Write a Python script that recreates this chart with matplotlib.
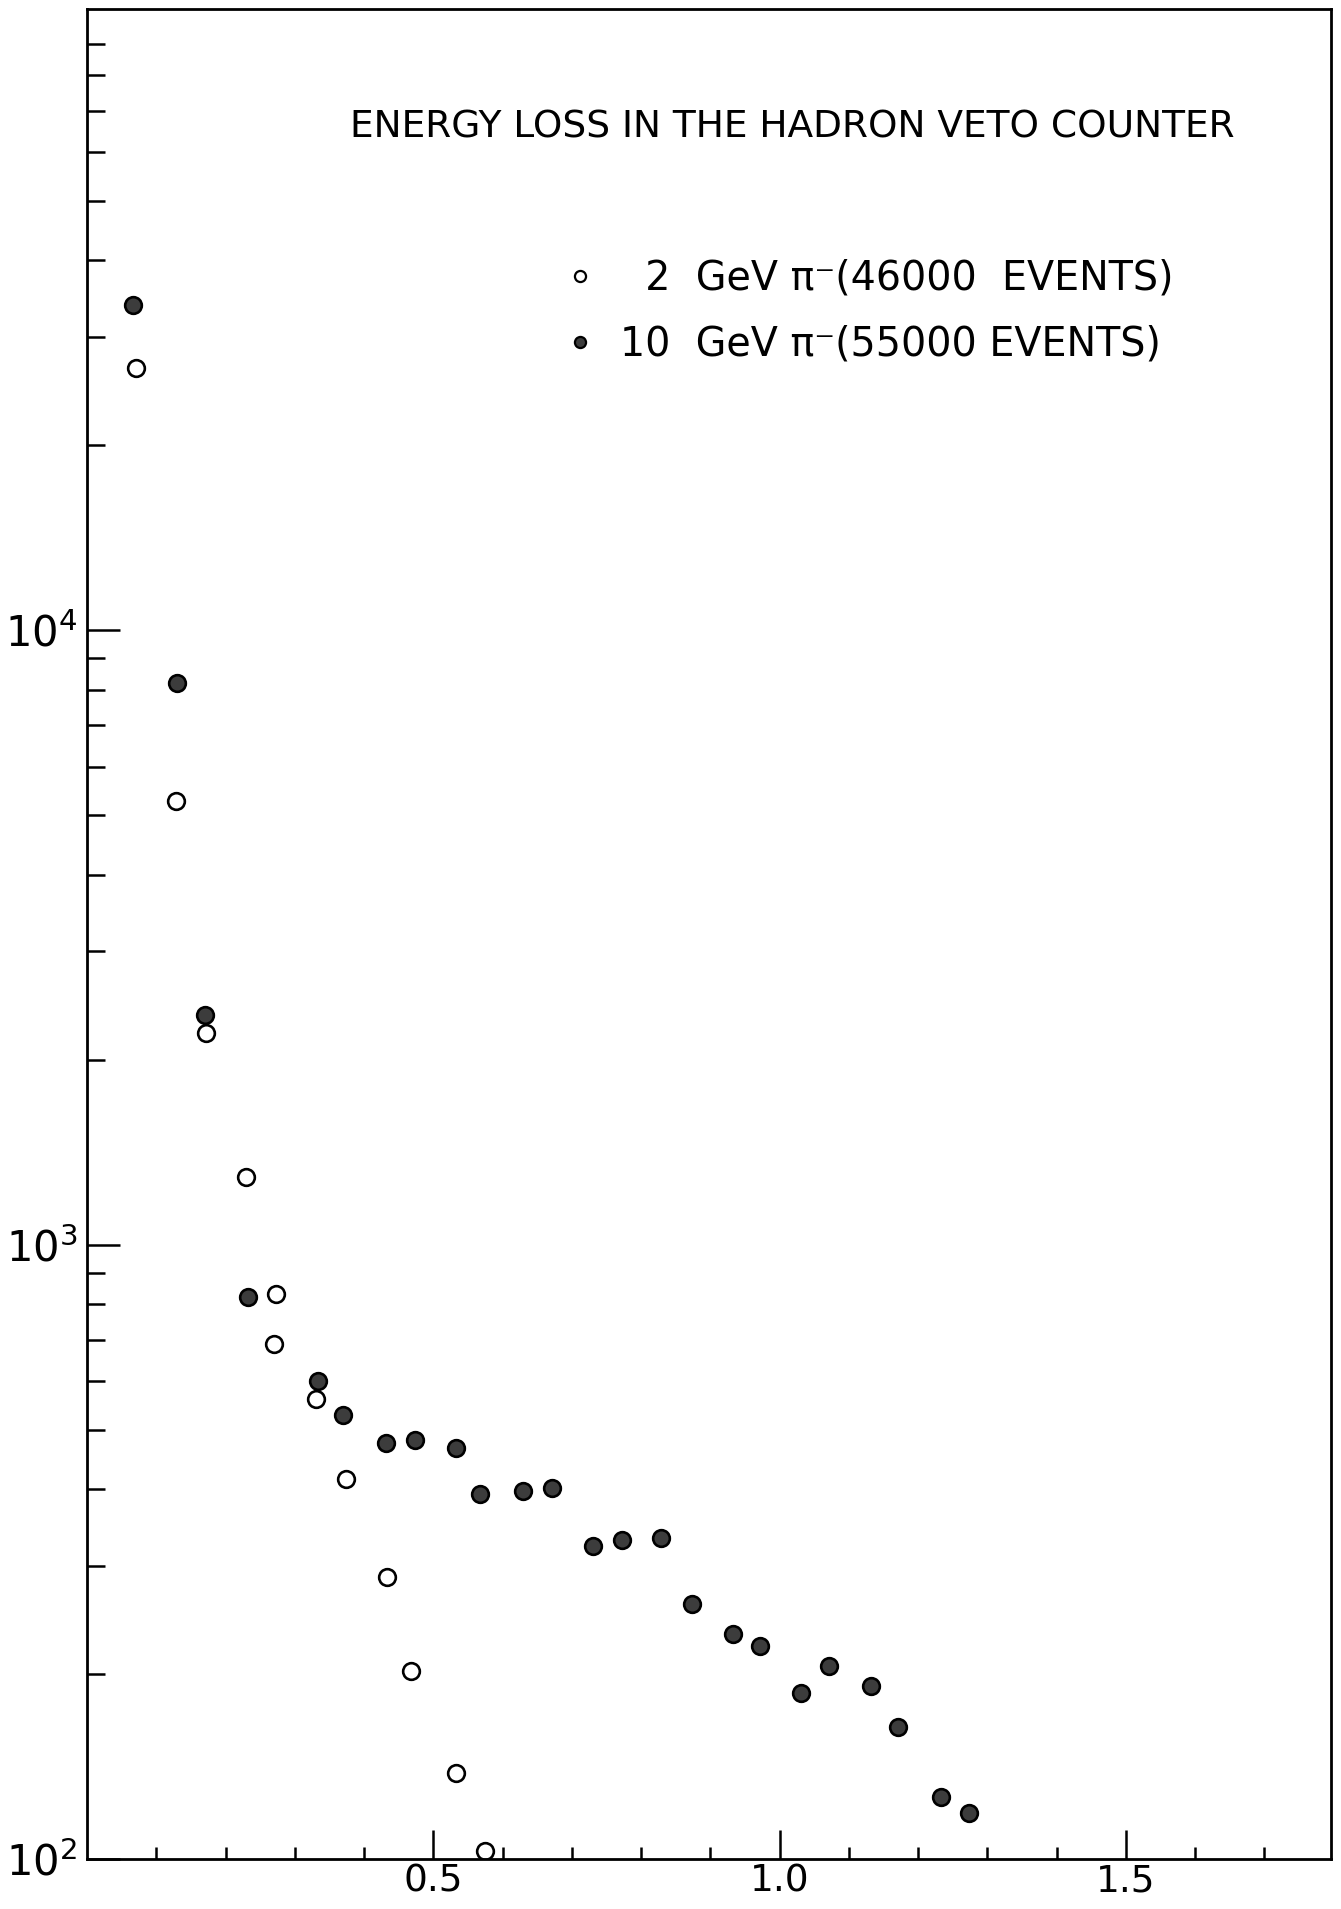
import numpy as np
import matplotlib.pyplot as plt
from matplotlib.lines import Line2D
from matplotlib.ticker import FixedLocator, NullFormatter, FixedFormatter

plt.rcParams['font.family'] = ['DejaVu Sans']

# energy loss (x) and counts
x_2gev = [0.070, 0.129, 0.172, 0.229, 0.273, 0.270, 0.330, 0.374, 0.433, 0.468, 0.533, 0.575]
n_2gev = [26700, 5270, 2210, 1290, 830, 690, 560, 416, 288, 202, 138, 103]

x_10gev = [0.066, 0.130, 0.171, 0.233, 0.334, 0.370, 0.432, 0.473, 0.533, 0.568,
           0.630, 0.671, 0.731, 0.772, 0.828, 0.873, 0.933, 0.972, 1.031, 1.071,
           1.132, 1.171, 1.233, 1.273]
n_10gev = [33800, 8210, 2360, 822, 600, 529, 476, 480, 467, 392,
           397, 402, 323, 330, 333, 260, 232, 222, 186, 206,
           191, 164, 126, 119]

title = "ENERGY LOSS IN THE HADRON VETO COUNTER"
label_2 = "\u20072  GeV \u03c0\u207b(46000  EVENTS)"
label_10 = "10  GeV \u03c0\u207b(55000 EVENTS)"

x_major = [0.5, 1.0, 1.5]
x_major_labels = ["0.5", "1.0", "1.5"]
x_minor = [0.1, 0.2, 0.3, 0.4, 0.6, 0.7, 0.8, 0.9, 1.1, 1.2, 1.3, 1.4, 1.6, 1.7]
y_major = [1e2, 1e3, 1e4]
y_major_labels = ["$10^{2}$", "$10^{3}$", "$10^{4}$"]
y_minor = [m * d for d in (1e2, 1e3, 1e4) for m in range(2, 10)]

fig = plt.figure(figsize=(13.41, 19.09), dpi=100)
ax = fig.add_axes([0.0649, 0.0262, 0.9276, 0.9691])

ax.plot(x_2gev, n_2gev, 'o', ms=12, mfc='white', mec='black', mew=1.9, ls='none')
ax.plot(x_10gev, n_10gev, 'o', ms=12, mfc='#3c3c3c', mec='black', mew=1.9, ls='none')

ax.set_yscale('log')
ax.set_xlim(0, 1.796)
ax.set_ylim(100, 1.026e5)

ax.xaxis.set_major_locator(FixedLocator(x_major))
ax.xaxis.set_major_formatter(FixedFormatter(x_major_labels))
ax.xaxis.set_minor_locator(FixedLocator(x_minor))
ax.yaxis.set_major_locator(FixedLocator(y_major))
ax.yaxis.set_major_formatter(FixedFormatter(y_major_labels))
ax.yaxis.set_minor_locator(FixedLocator(y_minor))
ax.yaxis.set_minor_formatter(NullFormatter())

ax.tick_params(axis='x', which='major', direction='in', length=21, width=1.8,
               labelsize=27, pad=3)
ax.tick_params(axis='x', which='minor', direction='in', length=9, width=1.8)
ax.tick_params(axis='y', which='major', direction='in', length=24, width=1.8,
               labelsize=30, pad=7)
ax.tick_params(axis='y', which='minor', direction='in', length=13, width=1.8)

for s in ax.spines.values():
    s.set_linewidth(2)

ax.text(0.567, 0.9357, title, transform=ax.transAxes, ha='center', va='center',
        fontsize=27)

handles = [
    Line2D([], [], marker='o', ls='none', ms=8, mfc='white', mec='black', mew=1.6),
    Line2D([], [], marker='o', ls='none', ms=8, mfc='#3c3c3c', mec='black', mew=1.6),
]
ax.legend(handles, [label_2, label_10], loc='upper left', bbox_to_anchor=(0.382, 0.865),
          frameon=False, fontsize=28.5, handlelength=0.9, handletextpad=0.55,
          labelspacing=0.66, borderpad=0, borderaxespad=0)

fig.savefig('out.png', dpi=100)
